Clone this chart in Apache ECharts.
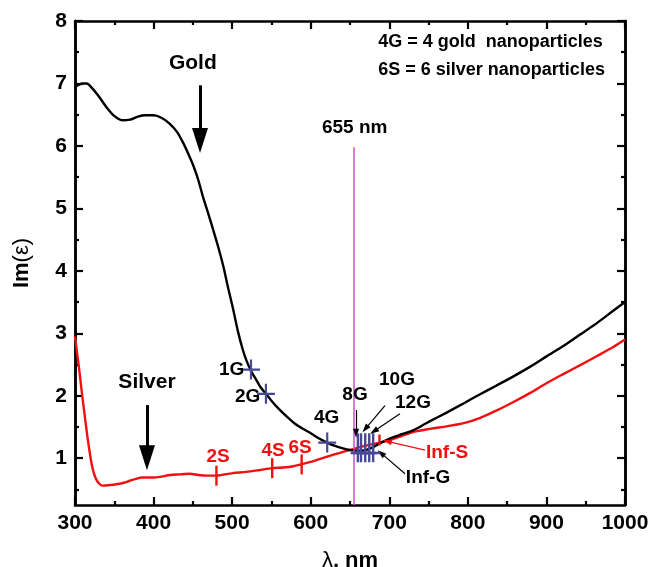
<!DOCTYPE html>
<html><head><meta charset="utf-8">
<script src="https://cdn.jsdelivr.net/npm/echarts@6/dist/echarts.min.js"></script>
<style>html,body{margin:0;padding:0;background:#fff}#c{width:653px;height:567px}</style>
</head><body><div id="c"></div>
<script>
// ---- data ----
const goldX = [300,305,310,315,320,330,340,350,360,370,380,390,400,410,420,430,438,445,451,457,463,470,476,483,489,495,501,507,513,518,524,530,536,543,550,560,570,580,590,600,610,621,630,640,650,660,670,680,688,700,715,731,750,773,795,815,836,858,880,900,922,943,965,985,1000];
const goldY = [6.94,6.98,7.00,7.00,6.95,6.80,6.62,6.48,6.41,6.42,6.47,6.49,6.49,6.45,6.36,6.22,6.04,5.85,5.67,5.45,5.18,4.90,4.65,4.35,4.06,3.72,3.40,3.05,2.76,2.57,2.40,2.27,2.14,2.03,1.92,1.78,1.66,1.55,1.47,1.40,1.32,1.25,1.20,1.16,1.13,1.12,1.13,1.18,1.24,1.31,1.38,1.45,1.58,1.73,1.88,2.02,2.16,2.31,2.47,2.63,2.80,2.98,3.17,3.36,3.50];
const silverX = [300,303,306,309,312,315,318,321,324,327,331,335,345,357,366,372,378,385,391,400,408,421,433,446,457,468,480,490,501,518,535,551,565,578,588,600,610,620,630,641,655,670,688,701,715,731,752,773,795,815,836,858,880,900,922,943,965,985,1000];
const silverY = [2.95,2.65,2.35,2.02,1.72,1.42,1.15,0.92,0.76,0.66,0.59,0.56,0.57,0.59,0.62,0.65,0.67,0.69,0.69,0.69,0.70,0.73,0.74,0.75,0.73,0.72,0.72,0.74,0.76,0.78,0.81,0.84,0.85,0.87,0.90,0.94,0.98,1.02,1.06,1.10,1.15,1.20,1.25,1.29,1.35,1.42,1.47,1.51,1.56,1.64,1.76,1.90,2.05,2.20,2.35,2.49,2.64,2.78,2.90];

const goldMarkX = [524, 543, 621];
const goldMarkY = [2.42, 2.03, 1.25];
const clusterX = [660, 664, 669.4, 674.5, 679.5];
const clusterY = [1.165, 1.165, 1.165, 1.165, 1.165];
const silverMarkX = [480, 551, 588.5];
const silverMarkY = [0.72, 0.84, 0.90];
const infSX = [687.5];
const infSY = [1.29];

const xTicks = [300, 400, 500, 600, 700, 800, 900, 1000];
const yTicks = [1, 2, 3, 4, 5, 6, 7, 8];
const yMinorTicks = [0.5, 1.5, 2.5, 3.5, 4.5, 5.5, 6.5, 7.5];
const resonanceNm = 655;

// annotation texts
const labelTexts = ['Gold', 'Silver', '655 nm', '4G = 4 gold  nanoparticles', '6S = 6 silver nanoparticles',
  '1G', '2G', '4G', '8G', '10G', '12G', 'Inf-G', '2S', '4S', '6S', 'Inf-S'];
</script>
<script>
const F = '"Liberation Sans", Arial, Helvetica, sans-serif';
const BLACK = '#000';
const RED = '#f01010';
const BLUE = '#474796';
const MAG = '#d448d4';

// annotation layout (data coords), style
const labelPos = [
  [450, 7.33, BLACK, 'center', 21],
  [391.6, 2.21, BLACK, 'center', 21],
  [656, 6.29, BLACK, 'center', 19],
  [686, 7.66, BLACK, 'left', 18],
  [686, 7.21, BLACK, 'left', 18],
  [499.4, 2.41, BLACK, 'center', 19],
  [519.8, 1.98, BLACK, 'center', 19],
  [620.3, 1.65, BLACK, 'center', 19],
  [656.4, 2.01, BLACK, 'center', 19],
  [709.8, 2.25, BLACK, 'center', 19],
  [730.2, 1.88, BLACK, 'center', 19],
  [749.3, 0.69, BLACK, 'center', 19],
  [482, 1.02, RED, 'center', 19],
  [552, 1.12, RED, 'center', 19],
  [586.4, 1.16, RED, 'center', 19],
  [773.5, 1.09, RED, 'center', 19]
];

const zip = (a, b) => a.map((v, i) => [v, b[i]]);

const labelData = labelTexts.map((t, i) => ({
  value: [labelPos[i][0], labelPos[i][1]],
  label: { formatter: t, color: labelPos[i][2], align: labelPos[i][3], fontSize: labelPos[i][4] }
}));

function arrow(x1, y1, x2, y2, color, width, head) {
  return [
    { coord: [x1, y1], symbol: 'none', lineStyle: { color: color, width: width, type: 'solid', opacity: 1 } },
    { coord: [x2, y2], symbol: 'triangle', symbolSize: head }
  ];
}

const markLines = [
  [{ coord: [resonanceNm, 5.98], symbol: 'none', lineStyle: { color: MAG, width: 1.5, type: 'solid', opacity: 1 } },
   { coord: [resonanceNm, 0.25], symbol: 'none' }],
  arrow(459.1, 6.97, 459.1, 6.085, BLACK, 3, [16, 25]),
  arrow(391.6, 1.85, 391.6, 1.008, BLACK, 3, [16, 25]),
  arrow(657.6, 1.77, 657.7, 1.40, BLACK, 1.2, [6, 9]),
  arrow(694.5, 1.84, 669.5, 1.47, BLACK, 1.2, [6, 9]),
  arrow(713.6, 1.71, 680.5, 1.43, BLACK, 1.2, [6, 9]),
  arrow(745.5, 1.13, 697.5, 1.27, RED, 1.2, [6, 9]),
  arrow(720, 0.75, 689.5, 1.08, BLACK, 1.2, [6, 9])
];

const axisLineStyle = { show: true, lineStyle: { color: '#000', width: 2.5 } };
const tickLbl = { fontFamily: F, fontWeight: 'bold', fontSize: 21, color: '#000' };

function yAx(pos, ticks, len, labels, extra) {
  return Object.assign({
    type: 'value', position: pos, min: 0.25, max: 8,
    axisLine: axisLineStyle,
    axisTick: { show: true, inside: true, length: len, customValues: ticks, lineStyle: { color: '#000', width: 2.2 } },
    axisLabel: labels ? Object.assign({ show: true, customValues: ticks, margin: 8, formatter: v => String(v) }, tickLbl) : { show: false },
    splitLine: { show: false }
  }, extra || {});
}

function xAx(pos, labels, extra) {
  return Object.assign({
    type: 'value', position: pos, min: 300, max: 1000, interval: 100,
    axisLine: axisLineStyle,
    axisTick: { show: true, inside: true, length: 8, lineStyle: { color: '#000', width: 2.2 } },
    minorTick: { show: true, splitNumber: 2, length: 4, lineStyle: { color: '#000', width: 2.2 } },
    axisLabel: labels ? Object.assign({ show: true, margin: 8, customValues: xTicks, formatter: v => String(v) }, tickLbl) : { show: false },
    splitLine: { show: false }, minorSplitLine: { show: false }
  }, extra || {});
}

const chart = echarts.init(document.getElementById('c'));
chart.setOption({
  animation: false,
  backgroundColor: '#fff',
  grid: { left: 75, right: 28, top: 21, bottom: 62, containLabel: false, outerBoundsMode: 'none' },
  xAxis: [
    xAx('bottom', true, {
      name: '{s|λ}{b|, nm}', nameLocation: 'middle', nameGap: 45,
      nameTextStyle: { rich: { s: { fontFamily: F, fontSize: 22, color: '#000' }, b: { fontFamily: F, fontSize: 22, fontWeight: 'bold', color: '#000' } } }
    }),
    xAx('top', false)
  ],
  yAxis: [
    yAx('left', yTicks, 8, true, {
      name: '{b|Im}{s|(ε)}', nameLocation: 'middle', nameGap: 42, nameRotate: 90,
      nameTextStyle: { rich: { s: { fontFamily: F, fontSize: 22, color: '#000' }, b: { fontFamily: F, fontSize: 22, fontWeight: 'bold', color: '#000' } } }
    }),
    yAx('left', yMinorTicks, 4, false),
    yAx('right', yTicks, 8, false),
    yAx('right', yMinorTicks, 4, false)
  ],
  series: [
    {
      type: 'line', name: 'Gold', data: zip(goldX, goldY), showSymbol: false, smooth: 0.25,
      lineStyle: { color: BLACK, width: 2.4, opacity: 1 }, z: 3, silent: true,
      markLine: { silent: true, animation: false, label: { show: false }, emphasis: { disabled: true }, data: markLines }
    },
    {
      type: 'line', name: 'Silver', data: zip(silverX, silverY), showSymbol: false, smooth: 0.25,
      lineStyle: { color: RED, width: 2.4, opacity: 1 }, z: 2, silent: true
    },
    {
      type: 'scatter', data: zip(goldMarkX, goldMarkY), z: 5, silent: true,
      symbol: 'path://M8,0h2.2v20h-2.2zM0,9h18.2v2.2h-18.2z', symbolSize: [18, 20],
      itemStyle: { color: BLUE, opacity: 1 }
    },
    {
      type: 'scatter', data: zip(clusterX, clusterY), z: 5, silent: true,
      symbol: 'path://M6,0h2.4v29h-2.4zM0,18.5h14.4v2.4h-14.4z', symbolSize: [14.4, 29],
      itemStyle: { color: BLUE, opacity: 1 }
    },
    {
      type: 'scatter', data: zip(silverMarkX, silverMarkY), z: 5, silent: true,
      symbol: 'path://M0,0h2.4v20h-2.4z', symbolSize: [2.4, 20], itemStyle: { color: RED, opacity: 1 }
    },
    {
      type: 'scatter', data: zip(infSX, infSY), z: 5, silent: true,
      symbol: 'path://M0,0h2.4v11h-2.4z', symbolSize: [2.4, 11], itemStyle: { color: RED, opacity: 1 }
    },
    {
      type: 'scatter', data: labelData, z: 6, silent: true, symbolSize: 1,
      itemStyle: { color: 'rgba(0,0,0,0)', opacity: 1 },
      label: { show: true, position: 'inside', fontFamily: F, fontWeight: 'bold', verticalAlign: 'middle', opacity: 1, textBorderWidth: 0 }
    }
  ]
});
</script>
</body></html>
